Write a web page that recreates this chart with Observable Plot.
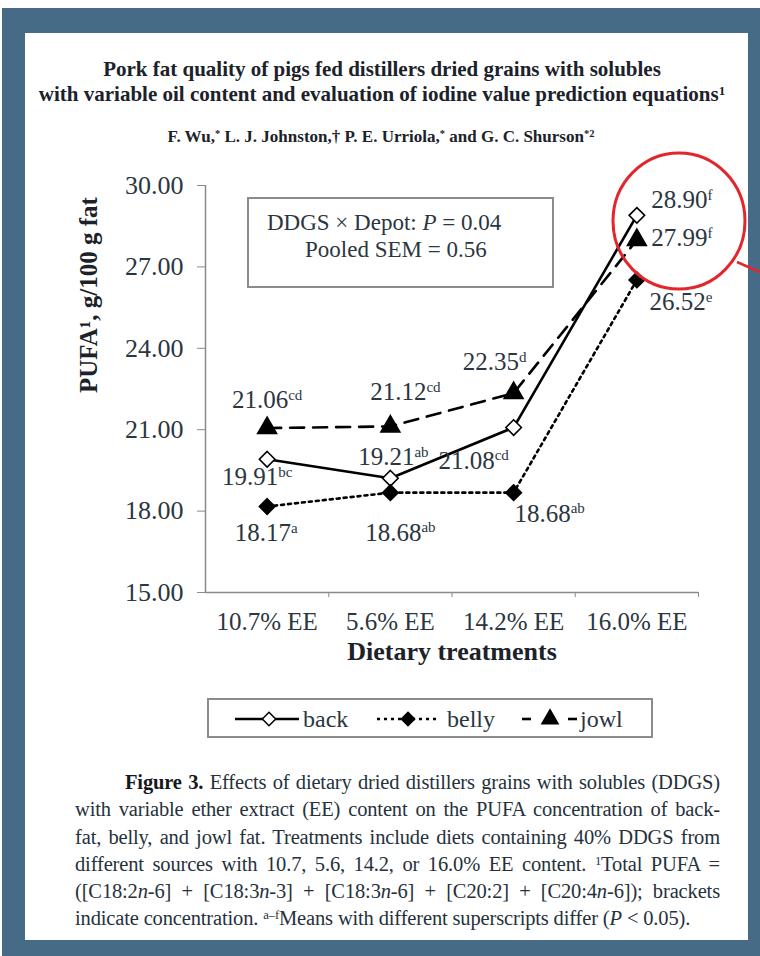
<!DOCTYPE html>
<html><head><meta charset="utf-8">
<script src="https://cdn.jsdelivr.net/npm/d3@7"></script>
<script src="https://cdn.jsdelivr.net/npm/@observablehq/plot@0.6"></script>
<style>
html,body{margin:0;padding:0;background:#fff;}
#page{position:relative;width:760px;height:956px;overflow:hidden;background:#fff;font-family:"Liberation Serif","Times New Roman",serif;color:#26313b;}
#blue{position:absolute;left:2px;top:8px;width:758px;height:948px;background:#466b87;}
#panel{position:absolute;left:25px;top:33px;width:723px;height:907px;background:#fff;}
.abs{position:absolute;}
#title{left:0;width:764px;top:57px;text-align:center;font-weight:bold;font-size:21px;line-height:25px;color:#1c2229;}
#authors{left:0;width:762px;top:126px;text-align:center;font-weight:bold;font-size:17px;line-height:22px;color:#1c2229;}
sup{font-size:0.62em;vertical-align:0.45em;line-height:0;}
#plotwrap{left:0;top:150px;}
#legend{left:207px;top:698px;width:442px;height:36px;border:2px solid #8c8c8c;}
#caption{left:75px;top:769px;width:645px;font-size:20.5px;line-height:27.3px;letter-spacing:-0.15px;}
#caption div{white-space:nowrap;text-align:justify;text-align-last:justify;height:27.3px;}
#caption div.last{text-align:left;text-align-last:left;}
#overlay{left:0;top:0;pointer-events:none;}
</style>
</head><body>
<div id="page">
  <div id="blue"></div>
  <div id="panel"></div>
  <div id="title" class="abs">Pork fat quality of pigs fed distillers dried grains with solubles<br>with variable oil content and evaluation of iodine value prediction equations<sup>1</sup></div>
  <div id="authors" class="abs">F. Wu,<sup>*</sup> L. J. Johnston,† P. E. Urriola,<sup>*</sup> and G. C. Shurson<sup>*2</sup></div>
  <div id="plotwrap" class="abs"></div>
  <div id="legend" class="abs"></div>
  <div id="caption" class="abs">
    <div style="padding-left:50px"><b style="color:#15191d">Figure 3.</b> Effects of dietary dried distillers grains with solubles (DDGS)</div>
    <div>with variable ether extract (EE) content on the PUFA concentration of back-</div>
    <div>fat, belly, and jowl fat. Treatments include diets containing 40% DDGS from</div>
    <div>different sources with 10.7, 5.6, 14.2, or 16.0% EE content. <sup>1</sup>Total PUFA =</div>
    <div>([C18:2<i>n</i>-6] + [C18:3<i>n</i>-3] + [C18:3<i>n</i>-6] + [C20:2] + [C20:4<i>n</i>-6]); brackets</div>
    <div class="last">indicate concentration. <sup>a–f</sup>Means with different superscripts differ (<i>P</i> &lt; 0.05).</div>
  </div>
  <svg id="overlay" class="abs" width="760" height="956"></svg>
</div>
<script>
// ---- data ----
const categories = ["10.7% EE", "5.6% EE", "14.2% EE", "16.0% EE"];
const seriesNames = ["back", "belly", "jowl"];
const backValues = [19.91, 19.21, 21.08, 28.90];
const bellyValues = [18.17, 18.68, 18.68, 26.52];
const jowlValues = [21.06, 21.12, 22.35, 27.99];
const backLetters = ["bc", "ab", "cd", "f"];
const bellyLetters = ["a", "ab", "ab", "e"];
const jowlLetters = ["cd", "cd", "d", "f"];
const yTicks = [15, 18, 21, 24, 27, 30];
const xLabel = "Dietary treatments";
const yLabel = "PUFA¹, g/100 g fat";

// ---- layout (label offsets in px, styles) ----
const labelOffsets = {
  back:  [[-10, 18], [3, -21], [-40, 33], [45, -15]],
  belly: [[-1, 27], [10, 40], [36, 21], [44, 22]],
  jowl:  [[0, -28], [15, -34], [-19, -31], [45, -2]]
};
const seriesStyle = {
  back:  {dash: null,   symbol: "diamond2", fill: "white"},
  belly: {dash: "3 4",  symbol: "diamond2", fill: "black"},
  jowl:  {dash: "14 9", symbol: "triangle", fill: "black"}
};
const valuesBy = {back: backValues, belly: bellyValues, jowl: jowlValues};
const lettersBy = {back: backLetters, belly: bellyLetters, jowl: jowlLetters};

const rows = seriesNames.flatMap(s => categories.map((c, i) => ({
  series: s, category: c, xi: i + 0.5, value: valuesBy[s][i], letters: lettersBy[s][i],
  dx: labelOffsets[s][i][0], dy: labelOffsets[s][i][1]
})));

const textColor = "#2b3640";
const axisColor = "#8a8a8a";

const plot = Plot.plot({
  width: 760, height: 530,
  marginLeft: 205, marginRight: 62, marginTop: 35, marginBottom: 88,
  style: {fontFamily: "'Liberation Serif', 'Times New Roman', serif", fontSize: "26px", color: textColor, background: "transparent", overflow: "visible"},
  x: {type: "linear", domain: [0, categories.length], axis: null},
  y: {domain: [yTicks[0], yTicks[yTicks.length - 1]], axis: null},
  marks: [
    Plot.ruleY([yTicks[0]], {stroke: axisColor, strokeWidth: 1.5}),
    Plot.ruleX([0], {stroke: axisColor, strokeWidth: 1.5}),
    Plot.axisY({ticks: yTicks, tickFormat: d3.format(".2f"), tickSize: 8, tickPadding: 14, stroke: axisColor, fill: textColor, label: null}),
    Plot.axisX({ticks: d3.range(1, categories.length + 1), tickSize: 5, tickFormat: () => "", stroke: axisColor, label: null}),
    Plot.axisX({ticks: categories.map((c, i) => i + 0.5), tickSize: 0, tickPadding: 20, tickFormat: d => categories[Math.floor(d)], fill: textColor, fontSize: 25, label: null}),
    Plot.text([xLabel], {text: d => d, frameAnchor: "bottom", dy: 67, fontWeight: "bold", fontSize: 26, fill: "#1c2229"}),
    Plot.text([yLabel], {text: d => d, frameAnchor: "left", dx: -117, dy: 4, rotate: -90, fontWeight: "bold", fontSize: 25, fill: "#1c2229"}),
    ...seriesNames.map(s => Plot.line(rows.filter(r => r.series === s), {
      x: "xi", y: "value", stroke: "black", strokeWidth: 2.6, strokeDasharray: seriesStyle[s].dash
    })),
    ...seriesNames.map(s => Plot.dot(rows.filter(r => r.series === s), {
      x: "xi", y: "value", symbol: seriesStyle[s].symbol, r: 7, fill: seriesStyle[s].fill, stroke: "black", strokeWidth: 1.6
    })),
    ...rows.map(r => Plot.text([r], {
      x: "xi", y: "value", text: d => d.value.toFixed(2) + "|" + d.letters,
      dx: r.dx, dy: r.dy, fontSize: 25, fill: textColor
    }))
  ]
});

// superscript letters
const svgNS = "http://www.w3.org/2000/svg";
plot.querySelectorAll("text").forEach(t => {
  if (t.childElementCount === 0 && t.textContent.includes("|")) {
    const [num, sup] = t.textContent.split("|");
    t.textContent = num;
    const ts = document.createElementNS(svgNS, "tspan");
    ts.setAttribute("font-size", "0.6em");
    ts.setAttribute("dy", "-0.55em");
    ts.textContent = sup;
    t.appendChild(ts);
  }
});
document.getElementById("plotwrap").appendChild(plot);

// ---- legend ----
const lg = d3.select("#legend").append("svg").attr("width", 442).attr("height", 36)
  .style("font-family", "'Liberation Serif', serif").style("font-size", "24px");
const legendItems = [
  {name: "back", x0: 26, x1: 90, xm: 60, tx: 94},
  {name: "belly", x0: 168, x1: 230, xm: 199, tx: 238},
  {name: "jowl", x0: 313, x1: 368, xm: 341, tx: 371}
];
legendItems.forEach(it => {
  const st = seriesStyle[it.name];
  if (it.name === "jowl") {
    lg.append("line").attr("x1", it.x0).attr("x2", it.x0 + 9).attr("y1", 19).attr("y2", 19).attr("stroke", "black").attr("stroke-width", 2.6);
    lg.append("line").attr("x1", it.x1 - 9).attr("x2", it.x1).attr("y1", 19).attr("y2", 19).attr("stroke", "black").attr("stroke-width", 2.6);
  } else {
    lg.append("line").attr("x1", it.x0).attr("x2", it.x1).attr("y1", 19).attr("y2", 19)
      .attr("stroke", "black").attr("stroke-width", 2.6).attr("stroke-dasharray", st.dash);
  }
  const sym = st.symbol === "triangle" ? d3.symbolTriangle : d3.symbolDiamond2;
  lg.append("path").attr("d", d3.symbol(sym, Math.PI * 6 * 6)())
    .attr("transform", `translate(${it.xm},19)`)
    .attr("fill", st.fill).attr("stroke", "black").attr("stroke-width", 1.5);
  lg.append("text").attr("x", it.tx).attr("y", 19).attr("dy", "0.32em").attr("fill", textColor).text(it.name);
});

// ---- annotation box and red highlight ----
const ov = d3.select("#overlay");
ov.append("rect").attr("x", 248).attr("y", 198).attr("width", 305).attr("height", 89)
  .attr("fill", "white").attr("stroke", "#8c8c8c").attr("stroke-width", 2);
const t1 = ov.append("text").attr("x", 267).attr("y", 223).attr("dy", "0.32em")
  .style("font-family", "'Liberation Serif', serif").style("font-size", "23px").attr("fill", textColor);
t1.append("tspan").text("DDGS × Depot: ");
t1.append("tspan").style("font-style", "italic").text("P");
t1.append("tspan").text(" = 0.04");
ov.append("text").attr("x", 305).attr("y", 250).attr("dy", "0.32em")
  .style("font-family", "'Liberation Serif', serif").style("font-size", "23px").attr("fill", textColor)
  .text("Pooled SEM = 0.56");
ov.append("ellipse").attr("cx", 679).attr("cy", 221).attr("rx", 66).attr("ry", 68)
  .attr("fill", "none").attr("stroke", "#e3262b").attr("stroke-width", 3);
ov.append("line").attr("x1", 737).attr("y1", 262).attr("x2", 762).attr("y2", 273)
  .attr("stroke", "#e3262b").attr("stroke-width", 2.5);
</script>
</body></html>
